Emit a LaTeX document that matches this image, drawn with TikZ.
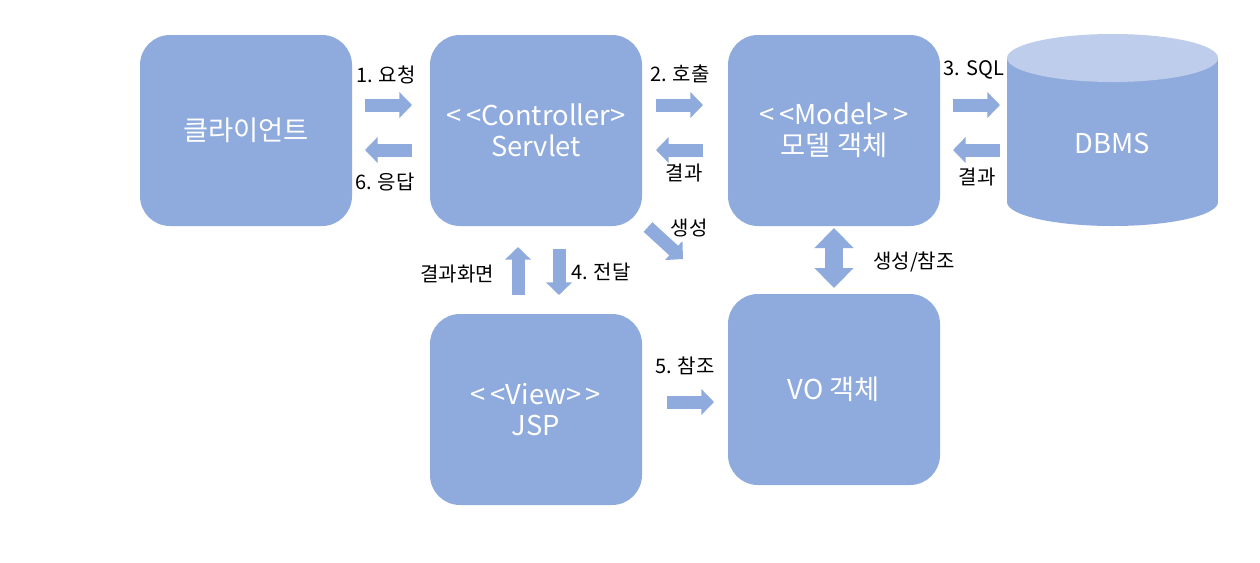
\documentclass[tikz,border=0pt]{standalone}
\usepackage{fontspec}
\setmainfont{Noto Sans CJK KR}
\usetikzlibrary{arrows.meta}
\definecolor{boxblue}{HTML}{8FAADC}
\definecolor{topblue}{HTML}{BDCDEB}
\newcommand{\lt}{\mbox{<}}
\newcommand{\gt}{\mbox{>}}
\tikzset{
  box/.style={rectangle, rounded corners=22.5pt, fill=boxblue, draw=none,
    minimum width=159pt, minimum height=143.25pt, text=white, align=center,
    font=\fontsize{20.5}{23}\selectfont},
  lbl/.style={font=\fontsize{15}{18}\selectfont, text=black, inner sep=0pt},
  blk/.style={draw=boxblue, line width=9.75pt,
    -{Triangle[width=18.75pt,length=9.4pt]}},
  dblk/.style={draw=boxblue, line width=13.5pt,
    {Triangle[width=28.5pt,length=15pt]}-{Triangle[width=28.5pt,length=15pt]}}
}
\begin{document}
\begin{tikzpicture}[x=0.75pt,y=-0.75pt]
\useasboundingbox[fill=white] (0,0) rectangle (1260,562);
% boxes
\node[box] (client) at (246,130.5) {클라이언트};
\node[box] (ctrl) at (536,130.5) {\lt\,\lt Controller\gt\\Servlet};
\node[box] (model) at (834,130.5) {\lt\,\lt Model\gt\,\gt\\모델 객체};
\node[box] (jsp) at (536,409.5) {\lt\,\lt View\gt\,\gt\\JSP};
\node[box] (vo) at (834,389.5) {VO 객체};
% DBMS cylinder
\fill[boxblue] (1007,58) rectangle (1218,202);
\fill[boxblue] (1112.5,202) ellipse [x radius=105.5, y radius=24];
\fill[topblue] (1112.5,58) ellipse [x radius=105.5, y radius=24];
\node[text=white, font=\fontsize{20.5}{23}\selectfont] (dbms) at (1112.5,143) {DBMS};
% arrow end points
\coordinate (a1s) at (365,105);   \coordinate (a1e) at (412,105);
\coordinate (a6s) at (412,150);   \coordinate (a6e) at (365,150);
\coordinate (a2s) at (656,105);   \coordinate (a2e) at (703,105);
\coordinate (a2rs) at (703,150);  \coordinate (a2re) at (656,150);
\coordinate (a3s) at (953,105);   \coordinate (a3e) at (1000,105);
\coordinate (a3rs) at (1000,150); \coordinate (a3re) at (953,150);
\coordinate (ags) at (648,227);   \coordinate (age) at (683,259);
\coordinate (avs) at (518,295);   \coordinate (ave) at (518,247);
\coordinate (a4s) at (559,249);   \coordinate (a4e) at (559,295);
\coordinate (a5s) at (667,402);   \coordinate (a5e) at (714,402);
\coordinate (aos) at (834,228);   \coordinate (aoe) at (834,288);
% arrows
\draw[blk] (a1s) -- (a1e);
\draw[blk] (a6s) -- (a6e);
\draw[blk] (a2s) -- (a2e);
\draw[blk] (a2rs) -- (a2re);
\draw[blk] (a3s) -- (a3e);
\draw[blk] (a3rs) -- (a3re);
\draw[blk] (ags) -- (age);
\draw[blk] (avs) -- (ave);
\draw[blk] (a4s) -- (a4e);
\draw[blk] (a5s) -- (a5e);
\draw[dblk] (aos) -- (aoe);
% labels
\node[lbl] (l1) at (386,75) {1. 요청};
\node[lbl] (l6) at (385,182) {6. 응답};
\node[lbl] (l2) at (680,74) {2. 호출};
\node[lbl] (l2r) at (684,173) {결과};
\node[lbl] (l3) at (974,70) {3. SQL};
\node[lbl] (l3r) at (977,177) {결과};
\node[lbl] (lgen) at (689,228) {생성};
\node[lbl] (lview) at (457,274) {결과화면};
\node[lbl] (l4) at (601,272) {4. 전달};
\node[lbl] (lvo) at (914,262) {생성/참조};
\node[lbl] (l5) at (685,366) {5. 참조};
\end{tikzpicture}
\end{document}
